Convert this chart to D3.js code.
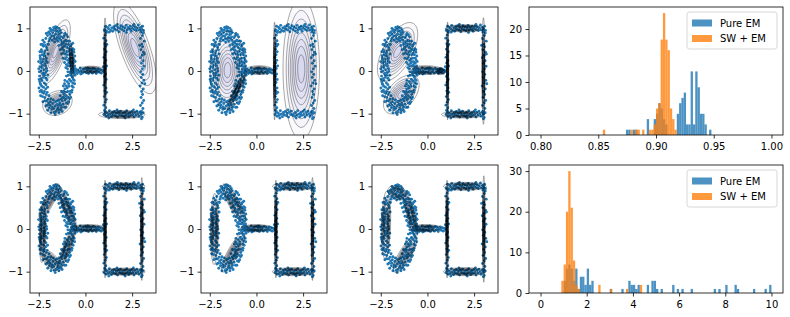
<!DOCTYPE html>
<html>
<head>
<meta charset="utf-8">
<script src="https://cdn.jsdelivr.net/npm/d3@7"></script>
<style>
  body { margin: 0; background: #fff; }
  svg text { font-family: "DejaVu Sans", sans-serif; font-size: 10px; fill: #000; }
</style>
</head>
<body>
<svg id="fig" width="790" height="317"></svg>
<script>
// ---- sample points (same data set in every scatter panel) ----
const ringPts = [
  [-2.41,-0.31],[-2.2,-0.28],[-2.33,-0.22],[-2.12,-0.17],[-2.46,-0.12],[-2.27,-0.09],[-2.15,-0.04],[-2.38,0.0],[-2.23,0.03],[-2.09,0.06],
  [-2.44,0.1],[-2.3,0.13],[-2.18,0.17],[-2.36,0.21],[-2.11,0.24],[-2.25,0.28],[-2.42,0.31],[-2.16,0.35],[-2.31,0.38],[-2.2,0.42],
  [-2.47,-0.02],[-2.06,-0.21],[-2.35,-0.35],[-2.14,0.12],[-2.4,0.27],[-2.26,-0.15],
  [-2.36,0.5],[-2.18,0.47],[-2.25,0.58],[-2.08,0.55],[-2.2,0.67],[-2.02,0.63],[-2.12,0.76],[-1.95,0.7],[-2.03,0.83],[-1.88,0.78],
  [-1.93,0.92],[-1.8,0.82],[-1.85,0.97],[-2.3,0.62],[-2.0,0.9],
  [-1.72,0.96],[-1.7,0.82],[-1.62,1.0],[-1.6,0.86],[-1.55,0.95],[-1.5,0.79],[-1.45,0.92],[-1.4,0.76],[-1.38,0.87],[-1.66,0.76],[-1.52,1.02],[-1.33,0.8],
  [-1.28,0.62],[-1.2,0.78],[-1.22,0.55],[-1.12,0.7],[-1.15,0.48],[-1.05,0.62],[-1.08,0.4],[-0.98,0.55],[-1.02,0.32],[-0.92,0.46],
  [-0.95,0.25],[-0.85,0.38],[-0.9,0.18],[-0.78,0.3],[-0.83,0.12],[-0.72,0.2],[-0.96,0.05],[-0.69,0.1],[-1.18,0.65],[-0.88,0.28],[-1.0,0.45],[-0.75,0.04],
  [-0.8,-0.06],[-0.92,-0.1],[-0.71,-0.12],[-0.86,-0.2],[-0.97,-0.25],[-0.78,-0.24],[-1.02,-0.35],[-0.88,-0.36],[-1.1,-0.42],[-0.95,-0.48],
  [-1.15,-0.55],[-1.03,-0.58],[-1.22,-0.62],[-1.1,-0.68],[-1.3,-0.66],[-1.2,-0.78],[-1.38,-0.75],[-1.28,-0.85],[-1.45,-0.8],[-1.4,-0.92],
  [-0.94,-0.02],[-1.07,-0.5],[-1.25,-0.7],
  [-1.52,-0.78],[-1.58,-0.95],[-1.62,-0.82],[-1.68,-0.97],[-1.75,-0.76],[-1.8,-0.9],[-1.88,-0.72],[-1.93,-0.86],[-2.0,-0.66],[-2.05,-0.8],
  [-2.1,-0.55],[-2.17,-0.7],[-2.2,-0.48],[-2.3,-0.6],[-2.36,-0.45],[-2.25,-0.38],[-1.5,-0.9],[-1.97,-0.75],
  [-2.29,-0.05],[-2.43,0.36],[-2.1,0.3],[-2.34,0.45],[-1.9,0.86],[-1.76,0.9],[-1.44,0.85],[-1.25,0.67],[-1.13,0.58],[-0.99,0.38],
  [-0.86,0.22],[-0.76,0.14],[-0.83,-0.02],[-0.9,-0.3],[-1.16,-0.62],[-1.34,-0.8],[-1.47,-0.86],[-1.7,-0.88],[-2.08,-0.7],[-2.24,-0.52],
  [-2.45,-0.25],[-2.07,0.0],[-2.39,0.18],[-2.13,-0.42],[-1.58,0.93],[-1.02,0.15],[-1.12,-0.3],[-1.85,-0.65],
  [-2.5,0.05],[-2.02,-0.1],[-2.48,-0.2],[-2.04,0.2],[-2.51,0.22],[-2.0,0.4],[-2.49,-0.4],[-2.03,-0.38],[-2.32,-0.5],[-2.44,0.45],
  [-2.05,0.5],[-2.19,-0.1],[-2.34,0.08],[-2.22,0.36],[-2.42,-0.3],[-2.12,-0.32],[-2.28,0.22],[-2.37,-0.18],
  [-2.28,0.72],[-2.1,0.88],[-1.98,0.62],[-1.9,1.0],[-1.78,0.72],[-1.65,0.68],[-1.6,1.04],[-1.48,0.7],[-1.42,1.0],[-1.35,0.95],
  [-2.38,0.62],[-1.82,0.95],[-1.7,1.02],[-1.55,0.74],[-2.15,0.6],[-1.92,0.75],
  [-1.3,0.9],[-1.15,0.82],[-1.05,0.72],[-0.92,0.62],[-0.8,0.5],[-0.7,0.38],[-0.6,0.25],[-0.58,0.12],[-1.42,0.6],[-1.35,0.5],
  [-1.28,0.4],[-1.2,0.3],[-1.12,0.2],[-1.05,0.08],[-1.25,0.52],[-0.88,0.52],[-0.65,0.3],[-1.18,0.42],[-1.08,0.28],[-0.95,0.12],
  [-0.7,-0.02],[-1.32,0.72],[-1.0,0.7],[-0.78,0.42],
  [-0.6,-0.05],[-0.65,-0.2],[-0.72,-0.35],[-0.82,-0.48],[-0.92,-0.62],[-1.02,-0.75],[-1.12,-0.85],[-1.25,-0.95],[-1.02,-0.12],[-1.1,-0.22],
  [-1.18,-0.35],[-1.28,-0.48],[-1.35,-0.58],[-1.42,-0.68],[-0.78,-0.1],[-0.98,-0.4],[-1.15,-0.48],[-0.84,-0.55],[-1.22,-0.5],[-1.05,-0.65],
  [-1.32,-0.9],[-0.68,-0.28],
  [-1.6,-0.72],[-1.72,-0.68],[-1.85,-0.98],[-1.95,-0.58],[-2.02,-0.92],[-2.12,-0.82],[-2.28,-0.72],[-2.4,-0.58],[-2.05,-0.5],[-1.62,-1.02],
  [-1.5,-0.7],[-1.78,-0.84],[-2.18,-0.62],[-2.44,-0.48],[-1.9,-0.8],[-1.42,-0.98],
  [-1.1,0.88],[-0.95,0.8],[-0.85,0.7],[-0.75,0.62],[-0.68,0.52],[-0.62,0.44],[-0.57,0.35],[-0.55,0.22],[-0.54,0.05],[-0.56,-0.1],
  [-0.6,-0.22],[-0.66,-0.38],[-0.74,-0.5],[-0.85,-0.65],[-0.95,-0.76],[-1.05,-0.85],[-0.9,0.7],[-0.8,0.58],[-0.72,0.48],[-0.66,0.18],
  [-0.63,0.02],[-0.7,-0.15],[-0.8,-0.62],[-0.62,0.5],[-0.68,0.65],[-1.02,0.85],[-0.58,-0.3],[-0.9,-0.72],[-0.76,0.22],[-0.72,-0.45]
];
const barPts = [
  [-0.72,0.03],[-0.66,-0.04],[-0.6,0.06],[-0.55,-0.01],[-0.5,0.04],[-0.44,-0.06],[-0.39,0.02],[-0.33,-0.03],[-0.28,0.07],[-0.22,0.0],
  [-0.17,-0.05],[-0.11,0.04],[-0.06,-0.02],[0.0,0.06],[0.05,-0.04],[0.1,0.02],[0.16,-0.06],[0.21,0.05],[0.26,-0.01],[0.32,0.03],
  [0.37,-0.05],[0.42,0.06],[0.48,-0.02],[0.53,0.04],[0.58,-0.06],[0.64,0.01],[0.69,0.05],[0.74,-0.03],[0.8,0.03],[0.85,-0.05],
  [0.9,0.02],[0.95,-0.01],[-0.47,0.0],[0.12,0.07],[0.6,-0.01],[-0.25,-0.07]
];
const rectTopPts = [
  [1.02,0.97],[1.08,1.05],[1.13,0.94],[1.19,1.02],[1.24,0.99],[1.3,1.07],[1.35,0.95],[1.41,1.01],[1.46,0.93],[1.52,1.04],
  [1.57,0.98],[1.63,1.06],[1.68,0.96],[1.74,1.02],[1.79,0.92],[1.85,1.0],[1.9,1.06],[1.96,0.97],[2.01,1.03],[2.07,0.94],
  [2.12,1.01],[2.18,1.07],[2.23,0.96],[2.29,1.02],[2.34,0.99],[2.4,1.05],[2.45,0.93],[2.51,1.0],[2.56,1.06],[2.62,0.97],
  [2.67,1.03],[2.73,0.95],[2.78,1.01],[2.84,1.08],[2.89,0.96],[2.95,1.02],[3.0,0.98],[3.06,1.05],[3.11,0.95],[1.27,0.91],
  [1.71,1.09],[2.2,0.9],[2.6,1.09],[2.98,0.91],[1.5,1.0],[2.38,0.98]
];
const rectBottomPts = [
  [1.0,-1.02],[1.06,-0.95],[1.11,-1.06],[1.17,-0.99],[1.22,-1.04],[1.28,-0.93],[1.33,-1.01],[1.39,-1.07],[1.44,-0.97],[1.5,-1.03],
  [1.55,-0.95],[1.61,-1.05],[1.66,-0.99],[1.72,-1.08],[1.77,-0.96],[1.83,-1.02],[1.88,-0.94],[1.94,-1.04],[1.99,-1.0],[2.05,-1.06],
  [2.1,-0.97],[2.16,-1.03],[2.21,-0.93],[2.27,-1.01],[2.32,-1.07],[2.38,-0.98],[2.43,-1.04],[2.49,-0.95],[2.54,-1.02],[2.6,-1.08],
  [2.65,-0.97],[2.71,-1.03],[2.76,-0.94],[2.82,-1.0],[2.87,-1.06],[2.93,-0.96],[2.98,-1.02],[3.04,-1.09],[3.09,-0.98],[1.25,-1.1],
  [1.69,-0.91],[2.13,-1.1],[2.57,-0.91],[3.0,-1.12],[1.46,-1.02],[2.35,-1.0]
];
const rectLeftPts = [
  [1.03,-0.92],[1.09,-0.86],[0.99,-0.8],[1.06,-0.73],[1.12,-0.67],[1.01,-0.6],[1.07,-0.53],[1.04,-0.47],[1.1,-0.4],[0.98,-0.33],
  [1.05,-0.27],[1.11,-0.2],[1.02,-0.13],[1.08,-0.07],[1.0,0.0],[1.06,0.06],[1.13,0.12],[1.03,0.19],[1.09,0.25],[0.99,0.32],
  [1.05,0.38],[1.11,0.45],[1.02,0.51],[1.08,0.58],[1.04,0.64],[1.1,0.71],[0.98,0.77],[1.06,0.84],[1.12,0.9],[1.01,0.95],
  [1.14,-0.5],[0.96,0.1],[1.07,-0.97],[1.15,0.62]
];
const rectRightPts = [
  [3.0,-0.94],[3.08,-0.88],[2.95,-0.81],[3.04,-0.75],[3.12,-0.69],[2.98,-0.62],[3.06,-0.55],[3.01,-0.48],[3.1,-0.42],[2.93,-0.35],
  [3.03,-0.28],[3.13,-0.22],[2.99,-0.15],[3.07,-0.08],[2.96,-0.02],[3.05,0.05],[3.14,0.11],[3.0,0.18],[3.09,0.24],[2.94,0.31],
  [3.04,0.37],[3.11,0.44],[2.97,0.5],[3.06,0.57],[3.02,0.63],[3.15,0.7],[2.95,0.76],[3.05,0.83],[3.1,0.89],[2.99,0.95],
  [3.18,-0.3],[2.9,0.6],[3.03,-0.99],[3.16,0.4]
];
const samplePts = [].concat(ringPts, barPts, rectTopPts, rectBottomPts, rectLeftPts, rectRightPts);

// ---- fitted mixture components: [meanX, meanY, sdX, sdY, corr] ----
const gmmPureA = [
  [2.65, 0.55, 0.55, 0.52, -0.7],
  [1.05, 0.1, 0.035, 0.55, 0],
  [1.95, -1.02, 0.6, 0.045, 0],
  [0.3, 0.03, 0.33, 0.04, 0],
  [-1.6, 0.45, 0.38, 0.36, 0.7],
  [-0.75, 0.25, 0.06, 0.2, -0.5],
  [-1.5, -0.75, 0.38, 0.14, 0.2]
];
const gmmPureB = [
  [2.4, 0.05, 0.47, 0.8, 0],
  [0.97, 0.0, 0.03, 0.55, 0],
  [0.15, 0.02, 0.35, 0.05, 0],
  [-1.55, 0.02, 0.45, 0.44, 0.05],
  [-1.05, -0.45, 0.25, 0.22, 0.95]
];
const gmmPureC = [
  [-1.6, 0.45, 0.52, 0.33, 0.6],
  [-1.4, -0.55, 0.46, 0.22, 0.5],
  [-0.1, 0.02, 0.45, 0.05, 0],
  [0.7, 0.0, 0.12, 0.04, 0],
  [2.0, 1.0, 0.5, 0.04, 0],
  [1.9, -1.02, 0.55, 0.04, 0],
  [1.08, 0.0, 0.03, 0.55, 0],
  [3.0, 0.0, 0.04, 0.6, 0]
];
const gmmSwA = [
  [-1.95, 0.65, 0.26, 0.2, 0.85],
  [-1.0, 0.5, 0.26, 0.26, -0.9],
  [-2.3, -0.1, 0.08, 0.33, 0.2],
  [-1.0, -0.45, 0.24, 0.26, 0.9],
  [-1.85, -0.74, 0.22, 0.11, -0.5],
  [0.15, 0.02, 0.45, 0.04, 0],
  [2.05, 1.0, 0.55, 0.04, 0],
  [2.05, -1.0, 0.55, 0.04, 0],
  [1.05, 0.0, 0.035, 0.55, 0],
  [3.02, 0.0, 0.035, 0.58, 0]
];
const gmmSwB = [
  [-2.25, 0.0, 0.1, 0.4, 0.1],
  [-1.2, 0.6, 0.3, 0.22, -0.85],
  [-1.25, -0.55, 0.3, 0.22, 0.85],
  [0.0, 0.02, 0.4, 0.04, 0],
  [2.0, 1.0, 0.55, 0.045, 0],
  [2.0, -1.0, 0.55, 0.045, 0],
  [1.04, 0.0, 0.035, 0.55, 0],
  [3.0, 0.0, 0.035, 0.58, 0]
];
const gmmSwC = [
  [-2.22, 0.1, 0.12, 0.38, 0.2],
  [-1.6, 0.85, 0.25, 0.08, -0.3],
  [-0.9, 0.35, 0.18, 0.25, -0.8],
  [-1.2, -0.6, 0.3, 0.2, 0.8],
  [-0.1, 0.02, 0.4, 0.04, 0],
  [2.0, 1.0, 0.55, 0.045, 0],
  [2.0, -1.0, 0.55, 0.045, 0],
  [1.05, 0.0, 0.035, 0.55, 0],
  [3.02, 0.0, 0.035, 0.6, 0]
];
// density levels as fractions of each component's peak
const levelFracs = [0.115, 0.23, 0.345, 0.46, 0.575, 0.69, 0.805, 0.92];

// ---- histograms: [bin left edge, count] ----
const llBinWidth = 0.002;
const llPureEM = [
  [0.874,1],[0.876,1],[0.880,1],[0.882,1],[0.892,3],[0.898,3],[0.900,4],[0.902,6],[0.904,5],[0.906,3],[0.908,2],
  [0.918,4],[0.920,6],[0.922,7],[0.924,8],[0.926,2],[0.928,2],[0.930,12],[0.932,2],[0.934,12],[0.936,9],
  [0.938,4],[0.940,4],[0.942,2],[0.946,1]
];
const llSwEM = [
  [0.854,1],[0.878,1],[0.882,1],[0.884,1],[0.888,1],[0.894,1],[0.896,1],[0.898,2],[0.900,5],[0.902,6],
  [0.904,18],[0.906,23],[0.908,18],[0.910,16],[0.912,5],[0.914,3],[0.916,1]
];
const distBinWidth = 0.1;
const distPureEM = [
  [1.0,3],[1.1,6],[1.2,7],[1.3,6],[1.4,3],[1.5,6],[1.6,1],[1.7,4],[1.8,4],[1.9,2],[2.0,6],[2.1,2],[2.2,3],
  [3.0,1],[3.5,1],[3.8,3],[3.9,2],[4.0,2],[4.1,1],[4.2,2],[4.6,2],[4.8,3],[4.9,3],[5.0,1],[5.2,1],
  [5.7,2],[5.9,1],[6.1,1],[6.5,1],[7.5,1],[7.7,1],[8.0,2],[8.4,2],[8.5,1],[9.2,1],[9.7,1],[9.9,2]
];
const distSwEM = [
  [0.9,3],[1.0,7],[1.1,20],[1.2,30],[1.3,21],[1.4,8],[1.5,2],[1.6,1],[2.5,2],[3.0,1],[3.7,1],[4.3,2]
];

const seriesNames = ['Pure EM', 'SW + EM'];
const seriesColors = ['#1f77b4', '#ff7f0e'];

const scatterXTicks = [-2.5, 0, 2.5];
const scatterYTicks = [-1, 0, 1];
const llXTicks = [0.80, 0.85, 0.90, 0.95, 1.00];
const llYTicks = [0, 5, 10, 15, 20];
const distXTicks = [0, 2, 4, 6, 8, 10];
const distYTicks = [0, 10, 20, 30];

// ---- layout ----
const svg = d3.select('#fig');
const colLeft = [30, 201, 372];
const rowTop = [7, 165];
const pw = 126, ph = 128;
const histLeft = 529, histW = 254;

function styleAxis(g) {
  g.select('.domain').remove();
  g.selectAll('.tick line').attr('stroke', '#000').attr('stroke-width', 0.8);
  g.selectAll('.tick text').style('font-size', '10px').attr('fill', '#000');
}

function frame(g, w, h) {
  g.append('rect').attr('width', w).attr('height', h)
    .attr('fill', 'none').attr('stroke', '#000').attr('stroke-width', 0.8);
}

function ellipse(c, r) {
  const [mx, my, sx, sy, rho] = c;
  const l21 = rho * sy, l22 = sy * Math.sqrt(1 - rho * rho);
  return d3.range(97).map(k => {
    const t = k / 96 * 2 * Math.PI, u = r * Math.cos(t), v = r * Math.sin(t);
    return [mx + sx * u, my + l21 * u + l22 * v];
  });
}

let clipId = 0;
function drawScatter(left, top, comps) {
  const g = svg.append('g').attr('transform', `translate(${left},${top})`);
  const x = d3.scaleLinear().domain([-2.97, 3.78]).range([0, pw]);
  const y = d3.scaleLinear().domain([-1.5, 1.5]).range([ph, 0]);
  const id = 'clip' + (clipId++);
  g.append('clipPath').attr('id', id).append('rect').attr('width', pw).attr('height', ph);
  const inner = g.append('g').attr('clip-path', `url(#${id})`);
  const line = d3.line().x(p => x(p[0])).y(p => y(p[1])).curve(d3.curveLinearClosed);

  const rings = [];
  comps.forEach(c => levelFracs.forEach(f => rings.push(ellipse(c, Math.sqrt(-2 * Math.log(f))))));

  inner.append('g').selectAll('path').data(rings).enter().append('path')
    .attr('d', line).attr('fill', '#6a5acd').attr('fill-opacity', 0.03).attr('stroke', 'none');
  inner.append('g').selectAll('circle').data(samplePts).enter().append('circle')
    .attr('cx', d => x(d[0])).attr('cy', d => y(d[1])).attr('r', 1.45).attr('fill', seriesColors[0]);
  inner.append('g').selectAll('path').data(rings).enter().append('path')
    .attr('d', line).attr('fill', 'none').attr('stroke', '#000').attr('stroke-opacity', 0.42).attr('stroke-width', 0.8);

  g.append('g').attr('transform', `translate(0,${ph})`)
    .call(d3.axisBottom(x).tickValues(scatterXTicks).tickFormat(d3.format('.1f')).tickSize(3.5).tickPadding(4.4))
    .call(styleAxis);
  g.append('g')
    .call(d3.axisLeft(y).tickValues(scatterYTicks).tickFormat(d3.format('d')).tickSize(3.5).tickPadding(3.5))
    .call(styleAxis);
  frame(g, pw, ph);
}

function drawHist(top, xDomain, yMax, bw, series, xTicks, yTicks, fmt) {
  const g = svg.append('g').attr('transform', `translate(${histLeft},${top})`);
  const x = d3.scaleLinear().domain(xDomain).range([0, histW]);
  const y = d3.scaleLinear().domain([0, yMax]).range([ph, 0]);
  series.forEach((s, i) => {
    g.append('g').selectAll('rect').data(s).enter().append('rect')
      .attr('x', d => x(d[0])).attr('width', d => x(d[0] + bw) - x(d[0]))
      .attr('y', d => y(d[1])).attr('height', d => ph - y(d[1]))
      .attr('fill', seriesColors[i]).attr('fill-opacity', 0.8);
  });
  g.append('g').attr('transform', `translate(0,${ph})`)
    .call(d3.axisBottom(x).tickValues(xTicks).tickFormat(d3.format(fmt)).tickSize(3.5).tickPadding(4.4))
    .call(styleAxis);
  g.append('g')
    .call(d3.axisLeft(y).tickValues(yTicks).tickFormat(d3.format('d')).tickSize(3.5).tickPadding(3.5))
    .call(styleAxis);
  frame(g, histW, ph);

  // legend, upper right
  const lg = g.append('g').attr('transform', `translate(${histW - 96},5)`);
  lg.append('rect').attr('width', 90).attr('height', 37).attr('rx', 2.5)
    .attr('fill', '#fff').attr('fill-opacity', 0.8).attr('stroke', '#ccc').attr('stroke-width', 0.8);
  seriesNames.forEach((name, i) => {
    lg.append('rect').attr('x', 5).attr('y', 7.5 + i * 15.5).attr('width', 20).attr('height', 7)
      .attr('fill', seriesColors[i]).attr('fill-opacity', 0.8);
    lg.append('text').attr('x', 33).attr('y', 14.5 + i * 15.5).text(name);
  });
}

drawScatter(colLeft[0], rowTop[0], gmmPureA);
drawScatter(colLeft[1], rowTop[0], gmmPureB);
drawScatter(colLeft[2], rowTop[0], gmmPureC);
drawScatter(colLeft[0], rowTop[1], gmmSwA);
drawScatter(colLeft[1], rowTop[1], gmmSwB);
drawScatter(colLeft[2], rowTop[1], gmmSwC);

drawHist(rowTop[0], [0.79, 1.01], 24.15, llBinWidth, [llPureEM, llSwEM], llXTicks, llYTicks, '.2f');
drawHist(rowTop[1], [-0.5, 10.5], 31.5, distBinWidth, [distPureEM, distSwEM], distXTicks, distYTicks, 'd');
</script>
</body>
</html>
